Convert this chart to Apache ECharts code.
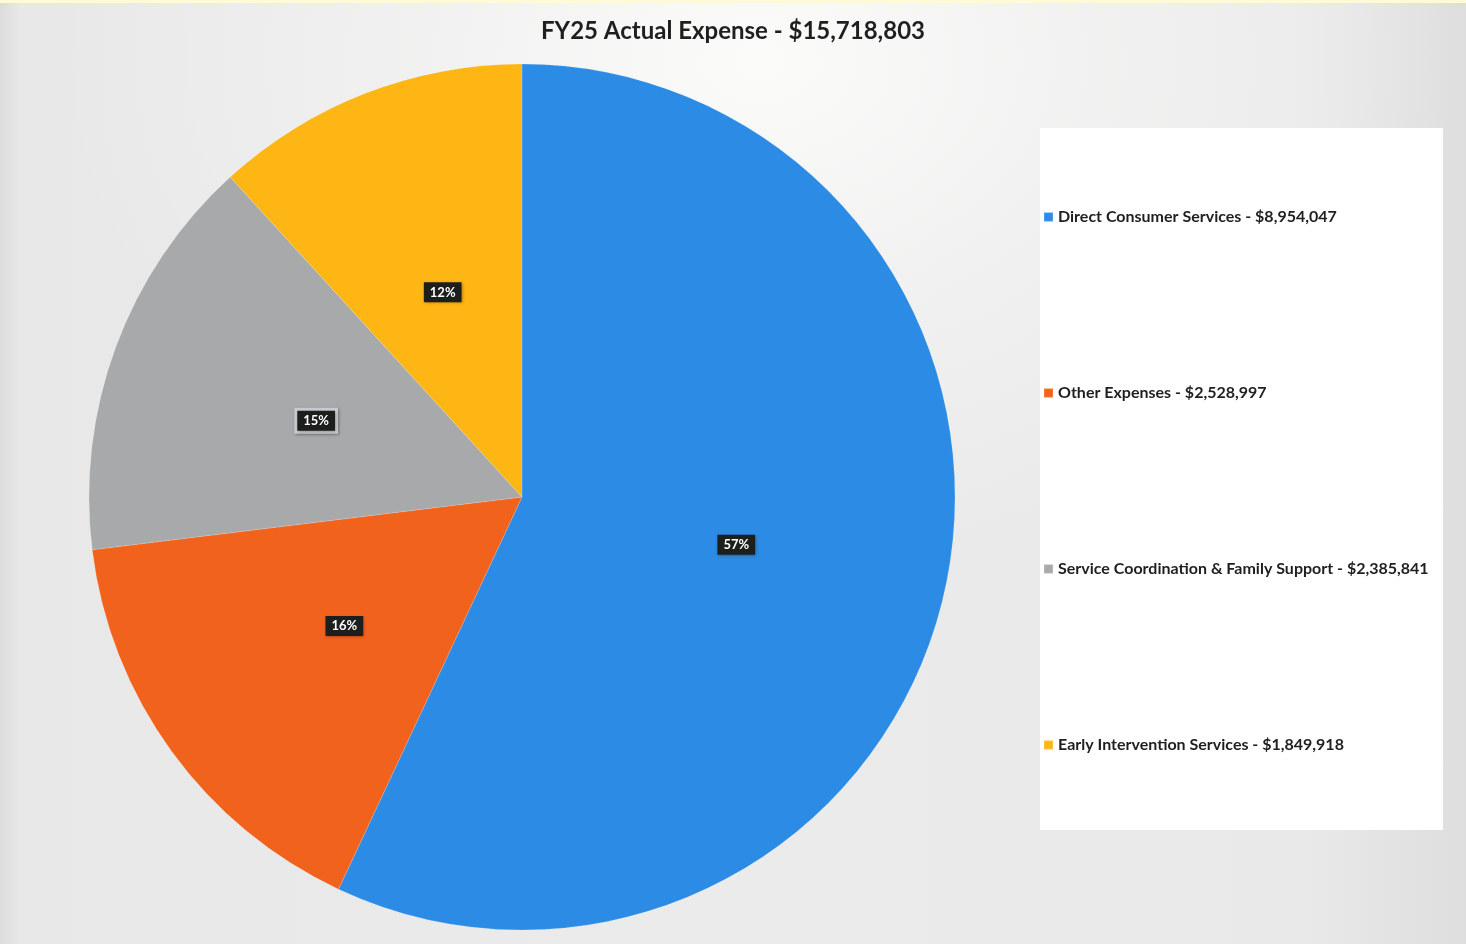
<!DOCTYPE html>
<html>
<head>
<meta charset="utf-8">
<script src="https://cdn.jsdelivr.net/npm/echarts@6/dist/echarts.min.js"></script>
<style>
html,body{margin:0;padding:0;width:1466px;height:944px;overflow:hidden;}
body{background:
 radial-gradient(ellipse 700px 500px at 760px 60px, #fbfbfa 0%, rgba(245,245,244,0.6) 50%, rgba(235,235,235,0) 100%),
 linear-gradient(90deg,#dcdcdc 0px,#e8e8e8 20px,#ebebeb 700px,#e9e9e9 1300px,#dedede 1466px);}
#top{position:absolute;left:0;top:0;width:1466px;height:3px;background:#fdfbd6;}
#chart{position:absolute;left:0;top:0;width:1466px;height:944px;}
</style>
</head>
<body>
<div id="top"></div>
<div id="chart"></div>
<script>
const titleText = 'FY25 Actual Expense - $15,718,803';
const categories = ['Direct Consumer Services','Other Expenses','Service Coordination & Family Support','Early Intervention Services'];
const values = [8954047, 2528997, 2385841, 1849918];
const colors = ['#2C8BE4','#F1621D','#A8A9AB','#FDB614'];

const fmt = v => '$' + v.toLocaleString('en-US');
const nameMap = {};
categories.forEach((c,i)=>{ nameMap[c] = c + ' - ' + fmt(values[i]); });

const chart = echarts.init(document.getElementById('chart'));
chart.setOption({
  backgroundColor: 'transparent',
  animation: false,
  title: {
    text: titleText, left: 728, top: 14, textAlign: 'center',
    textStyle: {fontFamily: 'Lato', fontSize: 24, fontWeight: 'bold', color: '#1f1f1f'}
  },
  graphic: [{
    type: 'rect', left: 1040, top: 128, z: -1,
    shape: {width: 403, height: 702},
    style: {fill: '#ffffff'}
  }],
  legend: {
    orient: 'vertical', left: 1038, top: 204,
    itemWidth: 9, itemHeight: 9, itemGap: 160, icon: 'rect',
    formatter: n => nameMap[n],
    textStyle: {fontFamily: 'Lato', fontSize: 16, lineHeight: 16, fontWeight: 'bold', color: '#1f1f1f'},
    data: categories
  },
  series: [{
    type: 'pie',
    center: [522, 497], radius: 433,
    startAngle: 90, clockwise: true,
    color: colors,
    itemStyle: {borderColor: 'rgba(255,255,255,0.15)', borderWidth: 1},
    label: {
      position: 'inside', formatter: p => Math.round(p.percent) + '%',
      color: '#ffffff', fontFamily: 'Lato', fontSize: 13, fontWeight: 'bold',
      backgroundColor: '#1d1f1c', padding: [4,6,3,6],
      shadowColor: 'rgba(0,0,0,0.35)', shadowBlur: 3, shadowOffsetX: 1, shadowOffsetY: 1
    },
    labelLine: {show: false},
    emphasis: {disabled: true},
    data: categories.map((c,i)=>{
      const d = {name: c, value: values[i]};
      if (i === 2) d.label = {borderColor: '#c9c9cf', borderWidth: 3};
      return d;
    })
  }]
});
</script>
</body>
</html>
